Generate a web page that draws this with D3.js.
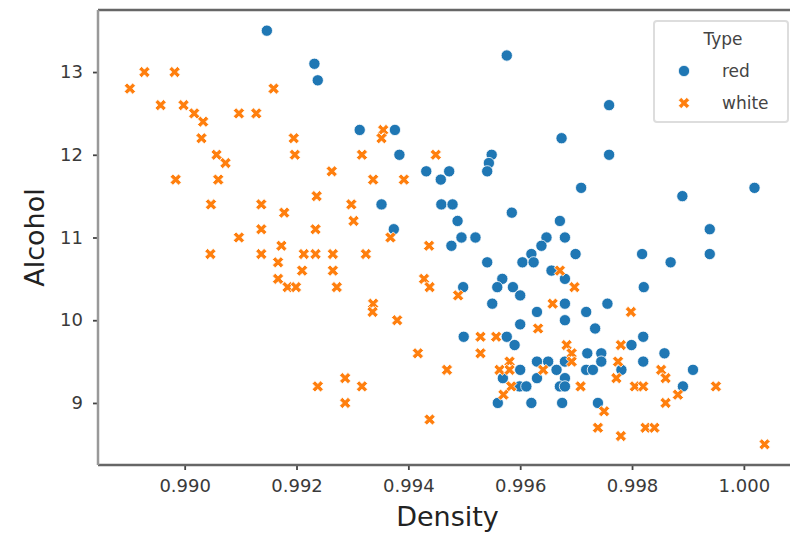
<!DOCTYPE html>
<html>
<head>
<meta charset="utf-8">
<script src="https://cdn.jsdelivr.net/npm/d3@7"></script>
<style>
  html, body { margin: 0; padding: 0; background: #fff; overflow: hidden; }
  svg { display: block; font-family: "DejaVu Sans", sans-serif; }
</style>
</head>
<body>
<svg id="chart" width="790" height="534"></svg>
<script>
// ---- data ----
const redDensity = [
  0.99147, 0.99232, 0.99238, 0.99576, 0.99313, 0.99376, 0.99674, 0.99384, 0.99549, 0.99544,
  0.99541, 0.99432, 0.99473, 0.99458, 0.99352, 0.99459, 0.99479, 0.99585, 0.99488, 0.99671,
  0.99374, 0.99495, 0.99520, 0.99477, 0.99647, 0.99638, 0.99680, 0.99620, 0.99604, 0.99624,
  0.99541, 0.99656, 0.99680, 0.99568, 0.99559, 0.99587, 0.99600, 0.99498, 0.99550, 0.99630,
  0.99680, 0.99600, 0.99680, 0.99499, 0.99576, 0.99590, 0.99630, 0.99650, 0.99680, 0.99600,
  0.99665, 0.99680, 0.99630, 0.99569, 0.99599, 0.99611, 0.99671, 0.99680, 0.99560, 0.99620,
  0.99675, 0.99759, 0.99759, 0.99709, 0.99890, 1.00019, 0.99939, 0.99699, 0.99818, 0.99869,
  0.99939, 0.99821, 0.99718, 0.99756, 0.99734, 0.99820, 0.99799, 0.99720, 0.99745, 0.99745,
  0.99820, 0.99858, 0.99718, 0.99730, 0.99781, 0.99909, 0.99891, 0.99739
];
const redAlcohol = [
  13.5, 13.1, 12.9, 13.2, 12.3, 12.3, 12.2, 12.0, 12.0, 11.9,
  11.8, 11.8, 11.8, 11.7, 11.4, 11.4, 11.4, 11.3, 11.2, 11.2,
  11.1, 11.0, 11.0, 10.9, 11.0, 10.9, 11.0, 10.8, 10.7, 10.7,
  10.7, 10.6, 10.5, 10.5, 10.4, 10.4, 10.3, 10.4, 10.2, 10.1,
  10.2, 9.95, 10.0, 9.8, 9.8, 9.7, 9.5, 9.5, 9.5, 9.4,
  9.4, 9.3, 9.3, 9.3, 9.2, 9.2, 9.2, 9.2, 9.0, 9.0,
  9.0, 12.6, 12.0, 11.6, 11.5, 11.6, 11.1, 10.8, 10.8, 10.7,
  10.8, 10.4, 10.1, 10.2, 9.9, 9.8, 9.7, 9.6, 9.6, 9.5,
  9.5, 9.6, 9.4, 9.4, 9.4, 9.4, 9.2, 9.0
];
const whiteDensity = [
  0.98928, 0.98982, 0.98902, 0.99159, 0.98957, 0.98998, 0.99017, 0.99033, 0.99097, 0.99128,
  0.99030, 0.99195, 0.99057, 0.99197, 0.99073, 0.99263, 0.98984, 0.99060, 0.99236, 0.99047,
  0.99137, 0.99178, 0.99137, 0.99234, 0.99097, 0.99173, 0.99046, 0.99137, 0.99213, 0.99234,
  0.99265, 0.99167, 0.99210, 0.99265, 0.99167, 0.99184, 0.99199, 0.99272, 0.99238, 0.99355,
  0.99352, 0.99317, 0.99449, 0.99337, 0.99392, 0.99298, 0.99302, 0.99368, 0.99437, 0.99324,
  0.99671, 0.99428, 0.99438, 0.99489, 0.99337, 0.99658, 0.99336, 0.99380, 0.99632, 0.99529,
  0.99557, 0.99683, 0.99417, 0.99529, 0.99581, 0.99563, 0.99581, 0.99641, 0.99469, 0.99287,
  0.99317, 0.99584, 0.99570, 0.99287, 0.99438, 0.99697, 0.99798, 0.99780, 0.99692, 0.99692,
  0.99775, 0.99852, 0.99772, 0.99860, 0.99708, 0.99805, 0.99820, 0.99950, 0.99882, 0.99860,
  0.99750, 0.99739, 0.99824, 0.99840, 0.99780, 1.00037
];
const whiteAlcohol = [
  13.0, 13.0, 12.8, 12.8, 12.6, 12.6, 12.5, 12.4, 12.5, 12.5,
  12.2, 12.2, 12.0, 12.0, 11.9, 11.8, 11.7, 11.7, 11.5, 11.4,
  11.4, 11.3, 11.1, 11.1, 11.0, 10.9, 10.8, 10.8, 10.8, 10.8,
  10.8, 10.7, 10.6, 10.6, 10.5, 10.4, 10.4, 10.4, 9.2, 12.3,
  12.2, 12.0, 12.0, 11.7, 11.7, 11.4, 11.2, 11.0, 10.9, 10.8,
  10.6, 10.5, 10.4, 10.3, 10.2, 10.2, 10.1, 10.0, 9.9, 9.8,
  9.8, 9.7, 9.6, 9.6, 9.5, 9.4, 9.4, 9.4, 9.4, 9.3,
  9.2, 9.2, 9.1, 9.0, 8.8, 10.4, 10.1, 9.7, 9.6, 9.5,
  9.5, 9.4, 9.3, 9.3, 9.2, 9.2, 9.2, 9.2, 9.1, 9.0,
  8.9, 8.7, 8.7, 8.7, 8.6, 8.5
];
const types = ["red", "white"];
const typeColors = ["#1f77b4", "#ff7f0e"];
const xTicks = [0.990, 0.992, 0.994, 0.996, 0.998, 1.000];
const yTicks = [9, 10, 11, 12, 13];
const xLabel = "Density";
const yLabel = "Alcohol";
const legendTitle = "Type";

// ---- layout ----
const svg = d3.select("#chart");
const L = 98, R = 797, T = 10, B = 465;
const x = d3.scaleLinear().domain([0.98845, 1.00095]).range([L, R]);
const y = d3.scaleLinear().domain([8.25, 13.75]).range([B, T]);
const color = d3.scaleOrdinal().domain(types).range(typeColors);

const redPts = redDensity.map((d, i) => ({ d, a: redAlcohol[i], t: "red" }));
const whitePts = whiteDensity.map((d, i) => ({ d, a: whiteAlcohol[i], t: "white" }));

// matplotlib-style filled "X" marker
const xs = 2.8;
const xVerts = [[-1,-2],[0,-1],[1,-2],[2,-1],[1,0],[2,1],[1,2],[0,1],[-1,2],[-2,1],[-1,0],[-2,-1]];
const xPath = d3.line()(xVerts.map(([a, b]) => [a * xs, b * xs])) + "Z";
const circlePath = d3.symbol().type(d3.symbolCircle).size(100)();
function markerPath(t) { return t === "red" ? circlePath : xPath; }

// axes
const xAxis = d3.axisBottom(x).tickValues(xTicks).tickFormat(d3.format(".3f")).tickSize(5).tickPadding(9);
const yAxis = d3.axisLeft(y).tickValues(yTicks).tickFormat(d3.format("d")).tickSize(5).tickPadding(10);

const gx = svg.append("g").attr("transform", `translate(0,${B})`).call(xAxis);
const gy = svg.append("g").attr("transform", `translate(${L},0)`).call(yAxis);
[gx, gy].forEach(g => {
  g.select(".domain").remove();
  g.selectAll(".tick line").attr("stroke", "#444").attr("stroke-width", 1.8);
  g.selectAll(".tick text").attr("fill", "#3a3a3a").style("font-size", "18px")
    .style("font-family", "'DejaVu Sans', sans-serif");
});

// points (red first, then white on top, as seaborn draws)
const plot = svg.append("g");
plot.selectAll("path.pt").data(redPts.concat(whitePts)).join("path")
  .attr("class", "pt")
  .attr("d", p => markerPath(p.t))
  .attr("transform", p => `translate(${x(p.d)},${y(p.a)})`)
  .attr("fill", p => color(p.t))
  .attr("stroke", "#fff")
  .attr("stroke-width", 0.8);

// spines
svg.append("line").attr("x1", L).attr("x2", 800).attr("y1", T).attr("y2", T)
  .attr("stroke", "#666").attr("stroke-width", 2.5);
svg.append("line").attr("x1", L).attr("x2", 800).attr("y1", B).attr("y2", B)
  .attr("stroke", "#666").attr("stroke-width", 2.5);
svg.append("line").attr("x1", L).attr("x2", L).attr("y1", T).attr("y2", B)
  .attr("stroke", "#999").attr("stroke-width", 2.5);

// axis labels
svg.append("text").attr("x", (L + R) / 2).attr("y", 526).attr("text-anchor", "middle")
  .style("font-size", "27px").attr("fill", "#222").text(xLabel);
svg.append("text").attr("transform", `translate(44,${(T + B) / 2}) rotate(-90)`)
  .attr("text-anchor", "middle").style("font-size", "27px").attr("fill", "#222").text(yLabel);

// legend
const lg = svg.append("g");
lg.append("rect").attr("x", 654).attr("y", 21).attr("width", 134).attr("height", 101)
  .attr("rx", 3).attr("fill", "#fff").attr("stroke", "#ddd").attr("stroke-width", 2);
lg.append("text").attr("x", 723).attr("y", 45).attr("text-anchor", "middle")
  .style("font-size", "17px").attr("fill", "#444").text(legendTitle);
types.forEach((t, i) => {
  const cy = 71 + i * 32;
  lg.append("path").attr("d", markerPath(t))
    .attr("transform", `translate(684,${cy})`)
    .attr("fill", color(t)).attr("stroke", "#fff").attr("stroke-width", 0.8);
  lg.append("text").attr("x", 722).attr("y", cy + 6).style("font-size", "17px")
    .attr("fill", "#444").text(t);
});
</script>
</body>
</html>
